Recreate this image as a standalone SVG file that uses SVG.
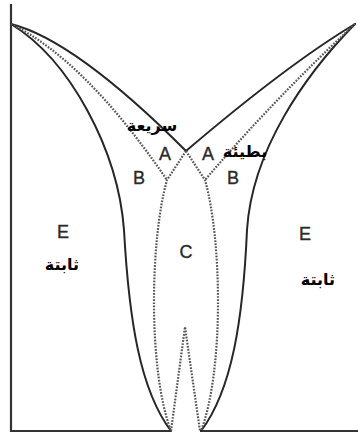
<svg xmlns="http://www.w3.org/2000/svg" width="358" height="436" viewBox="0 0 358 436">
<style>
.solid{fill:none;stroke:#262626;stroke-width:2;stroke-linecap:round}
.axis{fill:none;stroke:#333;stroke-width:2.2}
.dot{fill:none;stroke:#555;stroke-width:2.2;stroke-dasharray:1.7 1.4}
.lbl{font-family:"Liberation Sans",Arial,sans-serif;font-size:18px;fill:#2a2a2a;stroke:#2a2a2a;stroke-width:0.35;text-anchor:middle}
.ar{font-family:"DejaVu Sans","Noto Sans",sans-serif;font-weight:bold;font-size:16px;fill:#000;text-anchor:middle}
</style>
<rect width="358" height="436" fill="#fff"/>
<g id="connectors">
<path class="axis" d="M11,4 L11,431 L171,431"/>
<path class="axis" d="M200,431 L358,431"/>
<path class="solid" d="M11,24 Q75,40 186,151"/>
<path class="solid" d="M355,24 Q288,64 186,151"/>
<path class="solid" d="M11,24 C70,60 118,150 124,230 C129,320 140,390 171,431"/>
<path class="solid" d="M355,24 C305,75 252,150 247,230 C243,320 232,390 201,431"/>
<path class="dot" d="M11,24 Q85,60 167,180"/>
<path class="dot" d="M355,24 Q275,98 205,180"/>
<path class="dot" d="M186,151 L167,180 C150,240 148,370 171,431"/>
<path class="dot" d="M186,151 L205,180 C222,240 224,370 201,431"/>
<path class="dot" d="M171,431 L185,327 L200,431"/>
</g>
<g id="regionA1"><text class="lbl" x="165" y="160">A</text></g>
<g id="regionA2"><text class="lbl" x="208" y="160">A</text></g>
<g id="regionB1"><text class="lbl" x="139" y="184">B</text></g>
<g id="regionB2"><text class="lbl" x="233" y="184">B</text></g>
<g id="regionC"><text class="lbl" x="186" y="258">C</text></g>
<g id="regionE1"><text class="lbl" x="63" y="238">E</text></g>
<g id="regionE2"><text class="lbl" x="305" y="240">E</text></g>
<g id="label-fast"><text class="ar" x="152" y="131">سريعة</text></g>
<g id="label-slow"><text class="ar" x="245" y="157">بطيئة</text></g>
<g id="label-stable1"><text class="ar" x="62" y="270">ثابتة</text></g>
<g id="label-stable2"><text class="ar" x="318" y="285">ثابتة</text></g>
</svg>
